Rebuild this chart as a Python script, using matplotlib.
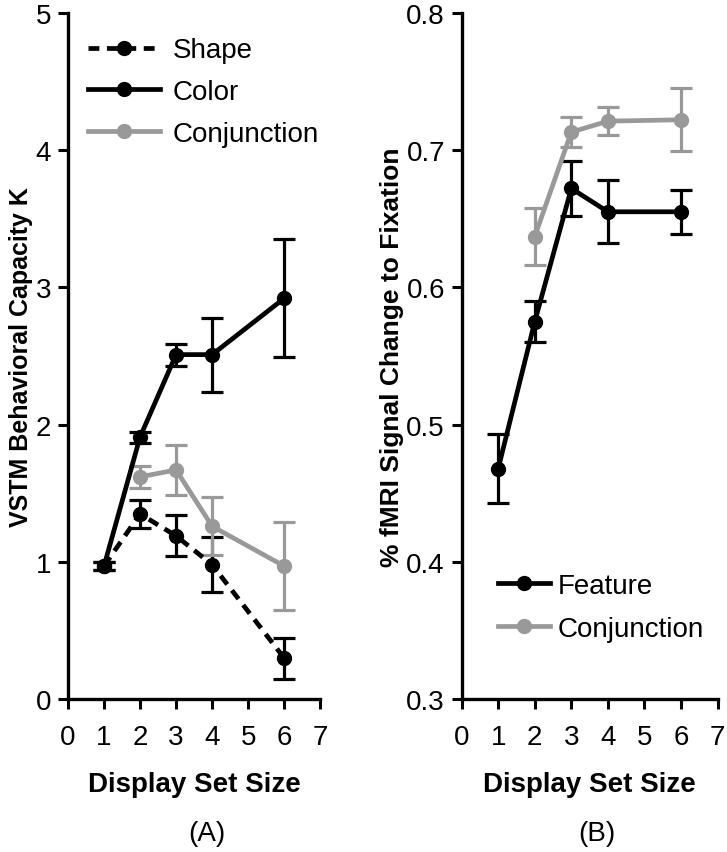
import matplotlib
matplotlib.use("Agg")
import matplotlib.pyplot as plt

plt.rcParams["font.family"] = ["Liberation Sans", "DejaVu Sans"]

GRAY = "#999999"

# panel A: VSTM behavioural capacity
set_size = [1, 2, 3, 4, 6]
shape_k = [0.97, 1.35, 1.19, 0.98, 0.30]
shape_err = [0.03, 0.10, 0.15, 0.20, 0.15]
color_k = [0.97, 1.91, 2.51, 2.51, 2.92]
color_err = [0.03, 0.04, 0.08, 0.27, 0.43]
conj_size = [2, 3, 4, 6]
conj_k = [1.62, 1.67, 1.26, 0.97]
conj_err = [0.08, 0.18, 0.21, 0.32]

# panel B: fMRI signal change
feat_size = [1, 2, 3, 4, 6]
feat_sig = [0.468, 0.575, 0.672, 0.655, 0.655]
feat_err = [0.025, 0.015, 0.020, 0.023, 0.016]
conjb_size = [2, 3, 4, 6]
conjb_sig = [0.637, 0.713, 0.721, 0.722]
conjb_err = [0.021, 0.011, 0.010, 0.023]

fig = plt.figure(figsize=(7.27, 8.53), dpi=100)
axA = fig.add_axes([0.0935, 0.179, 0.347, 0.805])
axB = fig.add_axes([0.635, 0.179, 0.352, 0.805])

LW = 3.4
kw = dict(marker="o", markersize=10, capsize=8, elinewidth=2.3, capthick=2.3, lw=LW)

e_shape = axA.errorbar(set_size, shape_k, yerr=shape_err, color="k", ls=(0, (2.3, 1.6)), **kw)
e_color = axA.errorbar(set_size, color_k, yerr=color_err, color="k", ls="-", **kw)
e_conj = axA.errorbar(conj_size, conj_k, yerr=conj_err, color=GRAY, ls="-", **kw)

e_conjb = axB.errorbar(conjb_size, conjb_sig, yerr=conjb_err, color=GRAY, ls="-", **kw)
e_feat = axB.errorbar(feat_size, feat_sig, yerr=feat_err, color="k", ls="-", **kw)

axA.set_ylim(0, 5)
axA.set_yticks(range(0, 6))
axA.set_ylabel("VSTM Behavioral Capacity K", fontsize=18, fontweight="bold", labelpad=2)
axB.set_ylim(0.3, 0.8)
axB.set_yticks([0.3, 0.4, 0.5, 0.6, 0.7, 0.8])
axB.set_yticklabels(["0.3", "0.4", "0.5", "0.6", "0.7", "0.8"])
axB.set_ylabel("% fMRI Signal Change to Fixation", fontsize=19, fontweight="bold", labelpad=2)

for ax, tag, tx in [(axA, "(A)", 0.55), (axB, "(B)", 0.53)]:
    ax.set_xlim(0, 7)
    ax.set_xticks(range(0, 8))
    ax.set_xlabel("Display Set Size", fontsize=20, fontweight="bold", labelpad=15)
    for s in ["top", "right"]:
        ax.spines[s].set_visible(False)
    for s in ["left", "bottom"]:
        ax.spines[s].set_linewidth(2.4)
    ax.tick_params(direction="out", length=7, width=2.2, labelsize=20, pad=5)
    ax.tick_params(axis="x", pad=11)
    ax.text(tx, -0.194, tag, transform=ax.transAxes, ha="center", va="center", fontsize=20)

axA.legend([e_shape[0], e_color[0], e_conj[0]], ["Shape", "Color", "Conjunction"],
           loc="upper left", bbox_to_anchor=(0.035, 0.98), frameon=False, fontsize=20,
           handlelength=2.6, handletextpad=0.45, labelspacing=0.56, borderaxespad=0)

axB.legend([e_feat[0], e_conjb[0]], ["Feature", "Conjunction"],
           loc="upper left", bbox_to_anchor=(0.1, 0.2), frameon=False, fontsize=20,
           handlelength=1.85, handletextpad=0.3, labelspacing=0.6, borderaxespad=0)

fig.savefig("out.png", dpi=100)
